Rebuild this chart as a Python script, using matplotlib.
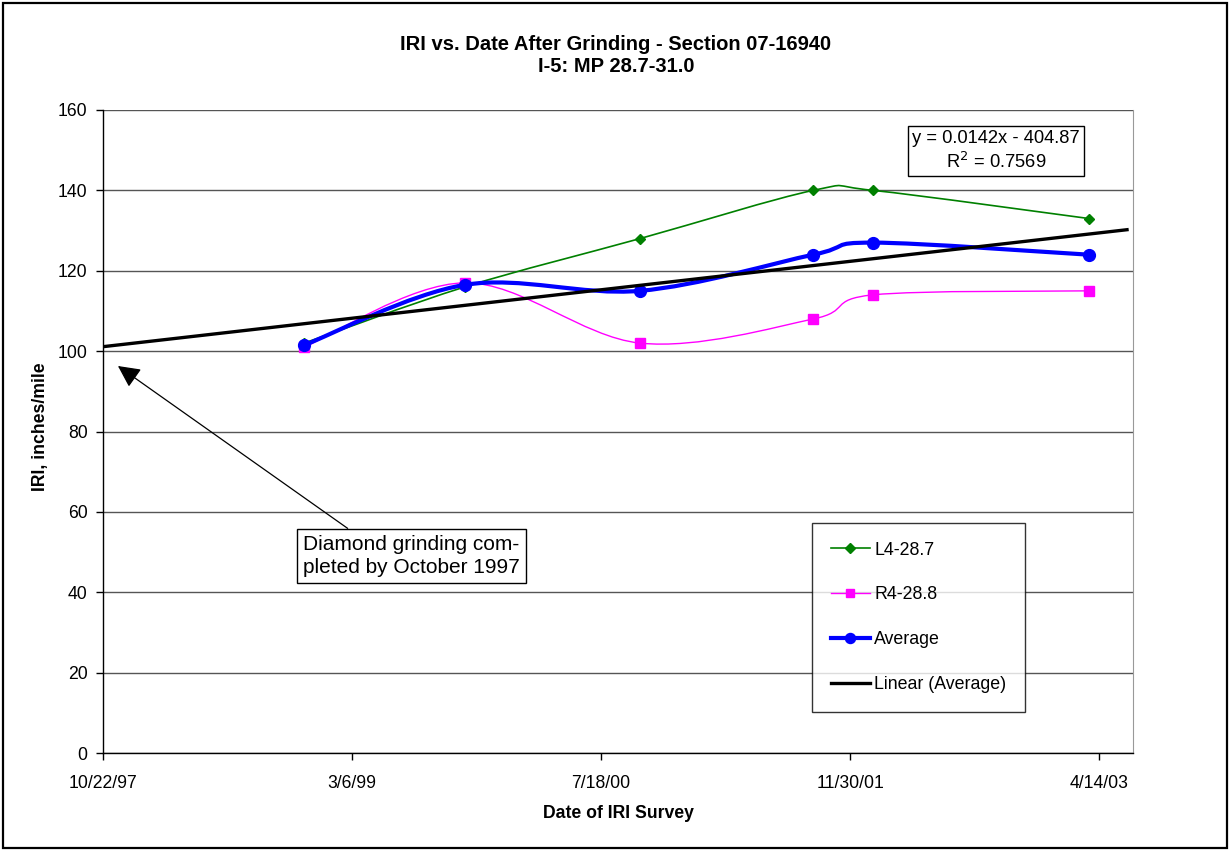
#!/usr/bin/env python3
"""IRI vs. Date After Grinding - Section 07-16940 (Excel-style line chart)."""

import numpy as np
import pandas as pd
import matplotlib
matplotlib.use("Agg")
import matplotlib.pyplot as plt
from matplotlib.path import Path
from matplotlib.patches import PathPatch, Rectangle
from matplotlib.lines import Line2D
from matplotlib.ticker import FixedLocator, FuncFormatter

# ── Data ─────────────────────────────────────────────────────────────
survey_dates = ["1998-11-30", "1999-10-19", "2000-10-04",
                "2001-09-17", "2002-01-15", "2003-03-24"]
iri_l4 = [102, 116, 128, 140, 140, 133]
iri_r4 = [101, 117, 102, 108, 114, 115]
iri_avg = [101.5, 116.5, 115, 124, 127, 124]

axis_start = "1997-10-22"
axis_step_days = 500
axis_n_ticks = 5
trend_end = "2003-06-09"
eq_text = "y = 0.0142x - 404.87\nR$^2$ = 0.7569"
note_text = "Diamond grinding com-\npleted by October 1997"

EXCEL_EPOCH = pd.Timestamp("1899-12-30")


def serial(d):
    return (pd.Timestamp(d) - EXCEL_EPOCH).days


x_pts = np.array([serial(d) for d in survey_dates], dtype=float)
x0 = serial(axis_start)

plt.rcParams.update({
    "font.family": ["Liberation Sans", "DejaVu Sans"],
    "font.size": 12.7,
})


def smooth_path(x, y):
    """Excel-like smoothed line: Catmull-Rom as cubic Bezier."""
    p = np.column_stack([x, y]).astype(float)
    ext = np.vstack([p[0], p, p[-1]])
    verts = [p[0]]
    codes = [Path.MOVETO]
    for i in range(len(p) - 1):
        a, b, c, d = ext[i], ext[i + 1], ext[i + 2], ext[i + 3]
        verts += [b + (c - a) / 6.0, c - (d - b) / 6.0, c]
        codes += [Path.CURVE4] * 3
    return Path(verts, codes)


fig = plt.figure(figsize=(12.30, 8.51), dpi=100)
ax = fig.add_axes([103 / 1230, 1 - 753 / 851, 1030 / 1230, 643 / 851])

# outer chart border
fig.patches.append(Rectangle((3 / 1230, 3 / 851), 1224 / 1230, 845 / 851,
                             transform=fig.transFigure, fill=False,
                             lw=1.6, ec="black"))

ax.set_xlim(x0, x0 + 2068)
ax.set_ylim(0, 160)
ax.set_yticks(np.arange(0, 161, 20))
ax.xaxis.set_major_locator(FixedLocator([x0 + i * axis_step_days
                                         for i in range(axis_n_ticks)]))
ax.xaxis.set_major_formatter(FuncFormatter(
    lambda v, pos: (EXCEL_EPOCH + pd.Timedelta(days=int(round(v)))).strftime("%-m/%-d/%y")))
ax.tick_params(direction="out", length=5, width=1, labelsize=12.7, pad=6)
ax.tick_params(axis="x", pad=11)
ax.grid(axis="y", color="#555555", lw=1)
ax.set_axisbelow(True)
ax.spines["top"].set_visible(False)
ax.spines["right"].set_color("#999999")
ax.spines["left"].set_linewidth(1)
ax.spines["bottom"].set_linewidth(1)

# series
series = [
    (iri_l4, "#008000", 1.2, "D", 5.5, "L4-28.7"),
    (iri_r4, "#FF00FF", 1.0, "s", 6.5, "R4-28.8"),
    (iri_avg, "#0000FF", 3.0, "o", 8.5, "Average"),
]
handles = []
for k, (yv, col, lw, mk, ms, lab) in enumerate(series):
    ax.add_patch(PathPatch(smooth_path(x_pts, yv), fill=False, ec=col,
                           lw=lw, zorder=3 + k))
    ax.plot(x_pts, yv, ls="none", marker=mk, ms=ms, color=col,
            mec=col, zorder=3 + k)
    handles.append(Line2D([], [], color=col, lw=lw, marker=mk,
                          ms=ms * 0.85, label=lab))

# linear trendline of the average
coef = np.polyfit(x_pts, iri_avg, 1)
xt = np.array([x0, serial(trend_end)], dtype=float)
ax.plot(xt, np.polyval(coef, xt), color="black", lw=2.4, zorder=7)
handles.append(Line2D([], [], color="black", lw=2.4, label="Linear (Average)"))

leg = ax.legend(handles=handles, loc="upper left",
                bbox_to_anchor=((812 - 103) / 1030, (753 - 523) / 643),
                fontsize=12.8, frameon=True, fancybox=False, borderpad=1.05,
                labelspacing=1.56, handlelength=2.2, handletextpad=0.25,
                borderaxespad=0)
leg.get_frame().set_edgecolor("black")
leg.get_frame().set_linewidth(1)

# equation box
ax.text((996 - 103) / 1030, (753 - 151) / 643, eq_text, transform=ax.transAxes,
        ha="center", va="center", multialignment="center", fontsize=13.2,
        linespacing=1.3,
        bbox=dict(boxstyle="square,pad=0.22", fc="white", ec="black", lw=1))

# annotation
ax.annotate(note_text, xy=(x0 + 30, 96.3),
            xytext=((303 - 103) / 1030, (753 - 556) / 643),
            textcoords="axes fraction", ha="left", va="center", fontsize=15,
            linespacing=1.25,
            bbox=dict(boxstyle="square,pad=0.3", fc="white", ec="black", lw=1),
            arrowprops=dict(arrowstyle="-|>,head_length=0.9,head_width=0.45",
                            color="black", lw=0.9, relpos=(0.25, 1.0),
                            shrinkA=0, shrinkB=0),
            zorder=8)

fig.text(616 / 1230, 1 - 45 / 851, "IRI vs. Date After Grinding - Section 07-16940",
         ha="center", va="center", fontsize=14.5, fontweight="bold")
fig.text(616 / 1230, 1 - 67 / 851, "I-5: MP 28.7-31.0",
         ha="center", va="center", fontsize=14.5, fontweight="bold")
fig.text(618 / 1230, 1 - 813 / 851, "Date of IRI Survey",
         ha="center", va="center", fontsize=12.7, fontweight="bold")
fig.text(41 / 1230, 1 - 427 / 851, "IRI, inches/mile", rotation=90,
         ha="center", va="center", fontsize=12.7, fontweight="bold")

fig.savefig("out.png", dpi=100)
